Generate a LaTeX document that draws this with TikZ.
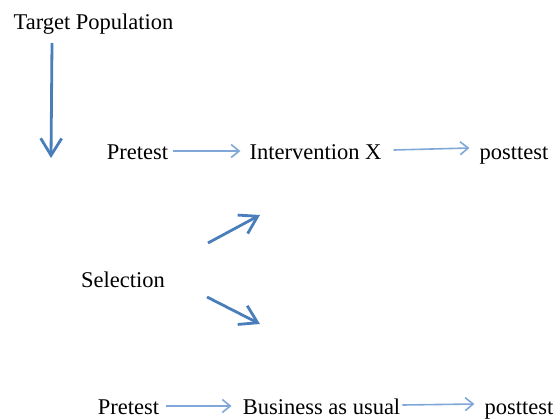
\documentclass[tikz,border=0pt]{standalone}
\usepackage{fontspec}
\setmainfont{Liberation Serif}
\usetikzlibrary{arrows.meta}
\definecolor{thickblue}{HTML}{4A7EBB}
\definecolor{thinblue}{HTML}{7FA8D9}
\begin{document}
\begin{tikzpicture}[x=1pt,y=-1pt,
  lbl/.style={inner sep=0pt,anchor=base,font=\fontsize{22.5}{26}\selectfont},
  thinarrow/.style={draw=thinblue,line width=1.6pt,-{Straight Barb[length=8pt,width=13pt,line width=1.6pt]}},
  thickarrow/.style={draw=thickblue,line width=2.8pt,-{Straight Barb[length=17pt,width=21pt,line width=2.8pt]}}]
\useasboundingbox (0,0) rectangle (560,418);
\node[lbl] (tp) at (93.5,29) {Target Population};
\node[lbl] (pre1) at (137.5,159) {Pretest};
\node[lbl] (int) at (315.5,159) {Intervention X};
\node[lbl] (post1) at (514,159) {posttest};
\node[lbl] (sel) at (123,287) {Selection};
\node[lbl] (pre2) at (128.5,414) {Pretest};
\node[lbl] (bau) at (321.5,414) {Business as usual};
\node[lbl] (post2) at (519,414) {posttest};
\coordinate (top) at (52,43);
\coordinate (down) at (51,158);
\coordinate (up1) at (208,243);
\coordinate (up2) at (260,215);
\coordinate (dn1) at (207,297);
\coordinate (dn2) at (260,324);
\draw[thickarrow] (top) -- (down);
\draw[thickarrow] (up1) -- (up2);
\draw[thickarrow] (dn1) -- (dn2);
\draw[thinarrow] ([xshift=5pt,yshift=8pt]pre1.base east) -- ([xshift=-9pt,yshift=8pt]int.base west);
\draw[thinarrow] ([xshift=12pt,yshift=9pt]int.base east) -- ([xshift=-10pt,yshift=11pt]post1.base west);
\draw[thinarrow] ([xshift=7pt,yshift=8pt]pre2.base east) -- ([xshift=-11pt,yshift=8pt]bau.base west);
\draw[thinarrow] ([xshift=2pt,yshift=9pt]bau.base east) -- ([xshift=-10pt,yshift=10pt]post2.base west);
\end{tikzpicture}
\end{document}
